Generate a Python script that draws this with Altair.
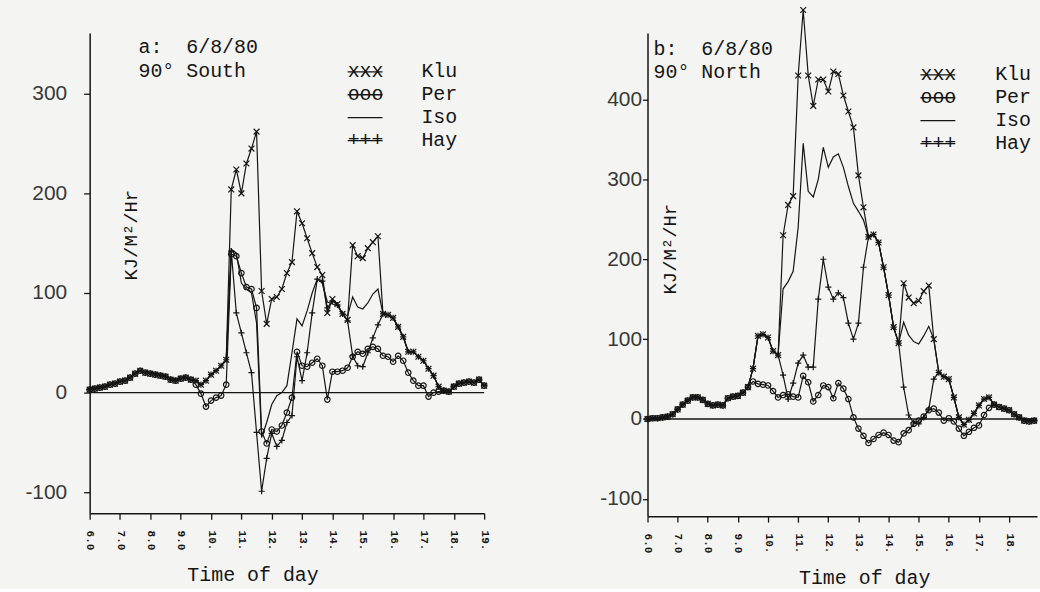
import altair as alt
import pandas as pd

MONO = "Liberation Mono"
SANS = "Liberation Sans"
INK = "#151515"

# sampling grid: every 10 minutes from 6:00
MIN_A = list(range(360, 360 + 10 * 79, 10))   # 6:00 .. 19:00
MIN_B = list(range(360, 360 + 10 * 78, 10))   # 6:00 .. 18:50

# ---------------- panel a: 6/8/80, 90 deg South ----------------
klu_a = [3, 4, 5, 6, 8, 9, 11, 12, 15, 19, 22, 20, 19, 18, 17, 16, 13, 12, 14, 15, 13, 12,
         8, 12, 18, 22, 27, 33, 204, 224, 200, 230, 245, 262, 102, 69, 94, 96, 104, 120,
         131, 182, 170, 155, 140, 126, 118, 80, 94, 89, 79, 73, 148, 137, 135, 145, 151,
         157, 79, 78, 75, 66, 56, 41, 41, 36, 32, 24, 17, 6, 2, 1, 6, 9, 10, 11, 10, 13, 7]
per_a = [3, 4, 5, 6, 8, 9, 11, 12, 15, 19, 22, 20, 19, 18, 17, 16, 13, 12, 14, 15, 13, 8,
         -1, -14, -8, -5, -3, 8, 139, 137, 120, 106, 104, 85, -39, -51, -37, -39, -33, -20,
         -5, 41, 27, 26, 30, 34, 27, -7, 21, 21, 22, 25, 36, 41, 39, 44, 46, 44, 37, 36,
         31, 37, 32, 20, 12, 7, 7, -4, 0, 1, 2, 1, 6, 9, 10, 11, 10, 13, 7]
iso_a = [3, 4, 5, 6, 8, 9, 11, 12, 15, 19, 22, 20, 19, 18, 17, 16, 13, 12, 14, 15, 13, 12,
         8, 12, 18, 22, 27, 33, 144, 140, 110, 104, 100, 70, -45, -30, -12, -3, 0, 7,
         40, 74, 67, 82, 100, 114, 110, 91, 89, 87, 80, 77, 96, 86, 84, 90, 99, 104,
         79, 78, 75, 66, 56, 41, 41, 36, 32, 24, 17, 6, 2, 1, 6, 9, 10, 11, 10, 13, 7]
hay_a = [3, 4, 5, 6, 8, 9, 11, 12, 15, 19, 22, 20, 19, 18, 17, 16, 13, 12, 14, 15, 13, 12,
         8, 12, 18, 22, 27, 33, 142, 80, 60, 40, 20, -40, -99, -66, -41, -54, -48, -30,
         -23, 36, 12, 40, 80, 114, 112, 85, 92, 88, 79, 72, 37, 27, 26, 40, 55, 68,
         79, 78, 75, 66, 56, 41, 41, 36, 32, 24, 17, 6, 2, 1, 6, 9, 10, 11, 10, 13, 7]

# ---------------- panel b: 6/8/80, 90 deg North ----------------
klu_b = [0, 1, 1, 2, 3, 6, 12, 18, 23, 27, 27, 24, 19, 17, 18, 17, 26, 28, 29, 33, 40,
         63, 104, 106, 102, 85, 80, 230, 268, 279, 430, 512, 430, 392, 425, 425, 410, 435,
         432, 405, 385, 365, 305, 265, 228, 231, 221, 190, 155, 115, 95, 170, 152, 145,
         148, 160, 167, 100, 58, 53, 50, 27, 2, -7, -1, 7, 17, 25, 27, 18, 15, 13, 11, 6,
         2, -2, -3, -2]
per_b = [0, 1, 1, 2, 3, 6, 12, 18, 23, 27, 27, 24, 19, 17, 18, 17, 26, 28, 29, 33, 40,
         47, 44, 43, 42, 35, 27, 30, 31, 28, 27, 54, 46, 22, 30, 42, 40, 26, 45, 38, 25,
         2, -12, -21, -30, -25, -20, -17, -20, -27, -29, -18, -14, -6, -2, 3, 11, 13, 8,
         -2, 1, -3, -12, -21, -16, -11, -8, 5, 14, 18, 15, 13, 11, 6, 2, -2, -3, -2]
iso_b = [0, 1, 1, 2, 3, 6, 12, 18, 23, 27, 27, 24, 19, 17, 18, 17, 26, 28, 29, 33, 40,
         63, 104, 106, 102, 85, 80, 163, 172, 185, 240, 345, 285, 278, 300, 340, 315, 328,
         332, 315, 291, 270, 260, 249, 228, 231, 221, 190, 155, 115, 95, 121, 105, 97, 94,
         104, 116, 100, 58, 53, 50, 27, 2, -7, -1, 7, 17, 25, 27, 18, 15, 13, 11, 6, 2,
         -2, -3, -2]
hay_b = [0, 1, 1, 2, 3, 6, 12, 18, 23, 27, 27, 24, 19, 17, 18, 17, 26, 28, 29, 33, 40,
         63, 104, 106, 102, 85, 80, 55, 25, 45, 70, 80, 65, 65, 150, 200, 165, 150, 158,
         152, 120, 100, 120, 190, 228, 231, 221, 190, 155, 115, 95, 40, 5, -5, -6, 2, 12,
         50, 58, 53, 50, 27, 2, -7, -1, 7, 17, 25, 27, 18, 15, 13, 11, 6, 2, -2, -3, -2]

SERIES = ["Klu", "Per", "Iso", "Hay"]
LEG_SYMBOLS = ["xxx", "ooo", "", "+++"]
TICKS_X_A = [6, 7, 8, 9, 10, 11, 12, 13, 14, 15, 16, 17, 18, 19]
TICKS_X_B = [6, 7, 8, 9, 10, 11, 12, 13, 14, 15, 16, 17, 18]
TICKS_Y_A = [-100, 0, 100, 200, 300]
TICKS_Y_B = [-100, 0, 100, 200, 300, 400]

XPATH = "M-1,-1L1,1M-1,1L1,-1"
PLUS = "M-1,0L1,0M0,-1L0,1"


def long_df(minutes, values):
    rows = []
    for name, vals in zip(SERIES, values):
        for m, v in zip(minutes, vals):
            rows.append({"t": m / 60.0, "v": v, "series": name})
    return pd.DataFrame(rows)


ONE = pd.DataFrame({"k": [0]})


def panel(df, c):
    xaxis = alt.Axis(values=c["xticks"],
                     labelExpr="datum.value < 10 ? format(datum.value, '.1f') : datum.value + '.'",
                     labelAngle=90, labelFont=MONO, labelFontSize=11, labelFontWeight="bold",
                     labelColor=INK, labelPadding=11, tickSize=6, tickWidth=1.3,
                     domainWidth=1.5, domainColor=INK, tickColor=INK, grid=False, title=None)
    yaxis = alt.Axis(values=c["yticks"], labelExpr="toString(datum.value)",
                     labelFont=SANS, labelFontSize=21, labelColor="#383838",
                     labelPadding=c["lpad"], tickSize=c["tsize"], tickWidth=1.3,
                     domainWidth=1.5, domainColor=INK, tickColor=INK, grid=False, title=None)
    X = alt.X("t:Q", scale=alt.Scale(domain=c["xdom"], nice=False, zero=False), axis=xaxis)
    Y = alt.Y("v:Q", scale=alt.Scale(domain=c["ydom"], nice=False, zero=False), axis=yaxis)

    base = alt.Chart(df)
    zero = alt.Chart(pd.DataFrame({"t": [6.0], "v": [0]})).mark_rule(
        color=INK, strokeWidth=1.3).encode(y=Y)
    lines = base.mark_line(color=INK, strokeWidth=1.2).encode(
        x=X, y=Y, detail="series:N", order="t:Q")
    klu = base.transform_filter(alt.datum.series == "Klu").mark_point(
        shape=XPATH, size=34, filled=False, color=INK, strokeWidth=1.2, opacity=1).encode(x=X, y=Y)
    per = base.transform_filter(alt.datum.series == "Per").mark_point(
        shape="circle", size=30, filled=False, color=INK, strokeWidth=1.2, opacity=1).encode(x=X, y=Y)
    hay = base.transform_filter(alt.datum.series == "Hay").mark_point(
        shape=PLUS, size=38, filled=False, color=INK, strokeWidth=1.2, opacity=1).encode(x=X, y=Y)

    anno = alt.Chart(ONE).mark_text(
        text=c["anno"], font=MONO, fontSize=20, align="left", baseline="alphabetic",
        lineHeight=c["anno_lh"], color=INK).encode(x=alt.value(c["anno_x"]), y=alt.value(c["anno_y"]))
    syms = [alt.Chart(ONE).mark_text(
        text=s, font=MONO, fontSize=20, align="left", baseline="alphabetic", color=INK).encode(
        x=alt.value(c["sym_x"]), y=alt.value(c["leg_y"] + 23 * i))
        for i, s in enumerate(LEG_SYMBOLS) if s]
    labels = alt.Chart(ONE).mark_text(
        text=SERIES, font=MONO, fontSize=20, align="left", baseline="alphabetic",
        lineHeight=23, color=INK).encode(x=alt.value(c["lbl_x"]), y=alt.value(c["leg_y"]))
    strikes = [alt.Chart(ONE).mark_rule(color=INK, strokeWidth=1.3).encode(
        x=alt.value(c["sym_x"]), x2=alt.value(c["sym_x"] + 35),
        y=alt.value(c["leg_y"] - 5 + 23 * i)) for i in range(4)]
    ytitle = alt.Chart(ONE).mark_text(
        text="KJ/M²/Hr", font=MONO, fontSize=19, angle=270, align="center",
        baseline="middle", color=INK).encode(x=alt.value(c["yt_x"]), y=alt.value(c["yt_y"]))
    xtitle = alt.Chart(ONE).mark_text(
        text="Time of day", font=MONO, fontSize=20, align="center",
        baseline="middle", color=INK).encode(x=alt.value(c["xt_x"]), y=alt.value(c["xt_y"]))

    return alt.layer(zero, lines, klu, per, hay, anno, *syms, labels, *strikes, ytitle, xtitle).properties(
        width=c["w"], height=c["h"])


cfg_a = dict(xdom=[6, 19], ydom=[-121, 361], w=396, h=482, xticks=TICKS_X_A, yticks=TICKS_Y_A,
             lpad=17, tsize=6, anno=["a:\u00a0\u00a06/8/80", "\u00a0\u00a0\u00a0\u00a090° South"],
             anno_x=49, anno_y=20, anno_lh=24, sym_x=259, lbl_x=333, leg_y=44,
             yt_x=42, yt_y=203, xt_x=164, xt_y=544)
cfg_b = dict(xdom=[6, 18.926], ydom=[-121.6, 483.2], w=391, h=485, xticks=TICKS_X_B, yticks=TICKS_Y_B,
             lpad=1, tsize=5, anno=["b:\u00a0\u00a06/8/80", "\u00a090° North"],
             anno_x=6, anno_y=22, anno_lh=23, sym_x=274, lbl_x=349, leg_y=47,
             yt_x=23, yt_y=217, xt_x=218, xt_y=547)

left = panel(long_df(MIN_A, [klu_a, per_a, iso_a, hay_a]), cfg_a)
right = panel(long_df(MIN_B, [klu_b, per_b, iso_b, hay_b]), cfg_b)

chart = alt.hconcat(left, right, spacing=164, bounds="flush").properties(
    padding={"left": 24, "top": 3, "right": 0, "bottom": 0},
    background="#f4f4f2",
).configure_view(stroke=None)

chart.save("out.html", embed_options={"renderer": "svg", "actions": False})
